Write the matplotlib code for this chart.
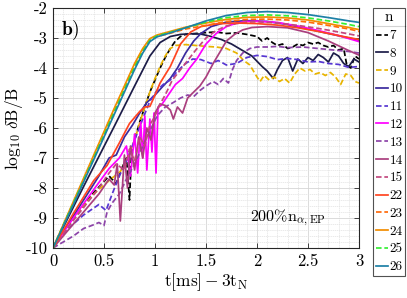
import matplotlib
matplotlib.use("Agg")
import matplotlib.pyplot as plt
from matplotlib.ticker import MultipleLocator, FuncFormatter
from matplotlib.lines import Line2D

plt.rcParams['font.family'] = 'cmr10'
plt.rcParams['mathtext.fontset'] = 'cm'
plt.rcParams['axes.formatter.use_mathtext'] = True
plt.rcParams['axes.unicode_minus'] = False

# ---- data ----
t7 = [0, 0.2, 0.4, 0.55, 0.62, 0.68, 0.72, 0.75, 0.77, 0.8, 0.85, 0.9, 0.95, 1.0, 1.05, 1.1,
      1.15, 1.2, 1.25, 1.3, 1.4, 1.5, 1.6, 1.7, 1.8, 1.9, 2.0, 2.05, 2.1, 2.15, 2.2, 2.25, 2.3,
      2.35, 2.4, 2.45, 2.5, 2.55, 2.6, 2.65, 2.7, 2.75, 2.8, 2.85, 2.88, 2.92, 2.96, 3.0]
v7 = [-10, -9.0, -8.15, -7.6, -7.85, -7.3, -7.0, -8.4, -6.8, -6.4, -5.8, -5.3, -4.8, -4.4, -4.0,
      -3.65, -3.35, -3.1, -2.95, -2.88, -2.85, -2.82, -2.8, -2.85, -2.83, -2.88, -2.95, -3.1, -3.0,
      -3.15, -3.25, -3.2, -3.35, -3.3, -3.2, -3.25, -3.15, -3.2, -3.15, -3.25, -3.3, -3.25, -3.4,
      -3.35, -3.9, -4.0, -3.6, -3.7]

t8 = [0, 0.3, 0.6, 0.8, 0.95, 1.05, 1.15, 1.25, 1.35, 1.45, 1.55, 1.65, 1.75, 1.85, 1.95, 2.05,
      2.1, 2.16, 2.2, 2.25, 2.3, 2.35, 2.4, 2.45, 2.5, 2.55, 2.6, 2.65, 2.7, 2.75, 2.8, 2.85, 2.9,
      2.95, 3.0]
v8 = [-10, -7.95, -5.95, -4.6, -3.6, -3.15, -2.95, -2.88, -2.86, -2.87, -2.95, -3.05, -3.2, -3.4,
      -3.6, -3.95, -4.1, -4.35, -4.05, -3.75, -3.65, -4.1, -3.7, -3.85, -3.65, -3.75, -3.55, -3.65,
      -3.8, -3.5, -3.6, -3.85, -3.95, -3.7, -3.8]

t9 = [0, 0.2, 0.4, 0.55, 0.66, 0.72, 0.8, 0.88, 0.95, 1.0, 1.05, 1.1, 1.15, 1.2, 1.3, 1.4, 1.5,
      1.6, 1.7, 1.8, 1.87, 1.93, 2.0, 2.03, 2.07, 2.12, 2.17, 2.22, 2.27, 2.32, 2.37, 2.42, 2.47,
      2.52, 2.57, 2.62, 2.67, 2.72, 2.77, 2.82, 2.87, 2.92, 2.96, 3.0]
v9 = [-10, -9.0, -8.2, -7.75, -7.45, -7.1, -6.4, -5.5, -4.8, -4.35, -3.95, -3.6, -3.35, -3.25,
      -3.22, -3.25, -3.28, -3.3, -3.35, -3.5, -3.75, -3.9, -4.3, -4.45, -4.25, -4.4, -4.3, -4.45,
      -4.35, -4.5, -4.2, -4.0, -4.1, -4.05, -4.2, -4.15, -4.25, -4.15, -4.3, -4.55, -4.2, -4.25,
      -4.45, -4.5]

t10 = [0, 0.15, 0.3, 0.45, 0.55, 0.62, 0.7, 0.78, 0.85, 0.92, 1.0, 1.08, 1.15, 1.22, 1.3, 1.38,
       1.45, 1.55, 1.7, 1.9, 2.1, 2.3, 2.5, 2.7, 2.9, 3.0]
v10 = [-10, -9.2, -8.4, -7.6, -7.0, -6.9, -6.3, -5.9, -5.5, -5.15, -4.9, -4.6, -4.35, -4.0, -3.5,
       -3.1, -2.85, -2.62, -2.47, -2.42, -2.45, -2.55, -2.7, -2.85, -3.0, -3.07]

t11 = [0, 0.15, 0.3, 0.45, 0.52, 0.58, 0.65, 0.72, 0.8, 0.88, 0.95, 1.02, 1.08, 1.15, 1.22, 1.3,
       1.37, 1.45, 1.55, 1.62, 1.7, 1.8, 1.9, 2.0, 2.1, 2.2, 2.3, 2.4, 2.5, 2.6, 2.7, 2.8, 2.9, 3.0]
v11 = [-10, -9.35, -8.9, -8.55, -8.75, -8.2, -7.6, -7.1, -6.4, -5.7, -5.1, -4.75, -4.55, -4.4,
       -4.1, -3.85, -3.7, -3.72, -3.85, -3.75, -3.9, -3.85, -3.65, -3.58, -3.62, -3.72, -3.68,
       -3.72, -3.8, -3.78, -3.85, -3.88, -3.98, -3.95]

t12 = [0, 0.2, 0.4, 0.55, 0.65, 0.72, 0.76, 0.8, 0.83, 0.86, 0.88, 0.9, 0.92, 0.95, 0.97, 0.99,
       1.01, 1.03, 1.06, 1.1, 1.15, 1.2, 1.27, 1.34, 1.41, 1.5, 1.6, 1.7, 1.8, 1.9, 2.0, 2.2, 2.4,
       2.6, 2.8, 3.0]
v12 = [-10, -9.0, -8.05, -7.35, -7.0, -6.6, -7.6, -6.2, -7.5, -5.8, -7.0, -5.6, -7.4, -5.7, -6.8,
       -5.5, -7.5, -5.3, -5.25, -5.05, -4.8, -4.55, -4.35, -4.0, -3.7, -3.2, -2.85, -2.62, -2.5,
       -2.45, -2.44, -2.48, -2.6, -2.75, -2.92, -3.12]

t13 = [0, 0.1, 0.2, 0.3, 0.38, 0.45, 0.5, 0.53, 0.58, 0.65, 0.72, 0.8, 0.88, 0.95, 1.02, 1.1,
       1.18, 1.25, 1.32, 1.38, 1.44, 1.5, 1.57, 1.62, 1.67, 1.72, 1.76, 1.8, 1.86, 1.93, 2.0, 2.1,
       2.2, 2.3, 2.45, 2.6, 2.75, 2.9, 3.0]
v13 = [-10, -9.8, -9.6, -9.35, -9.25, -9.15, -9.25, -8.8, -8.5, -8.2, -7.7, -7.2, -6.6, -6.1,
       -5.6, -5.3, -5.15, -5.0, -4.9, -4.95, -4.75, -4.6, -4.45, -4.55, -4.35, -4.5, -4.05, -3.75,
       -3.5, -3.35, -3.3, -3.3, -3.28, -3.32, -3.3, -3.35, -3.4, -3.45, -3.5]

t14 = [0, 0.15, 0.3, 0.45, 0.55, 0.6, 0.63, 0.66, 0.7, 0.73, 0.76, 0.8, 0.84, 0.88, 0.92, 0.96,
       1.0, 1.05, 1.1, 1.15, 1.18, 1.22, 1.27, 1.32, 1.38, 1.44, 1.5, 1.57, 1.64, 1.7, 1.78, 1.86,
       1.95, 2.1, 2.3, 2.5, 2.7, 2.9, 3.0]
v14 = [-10, -9.4, -8.8, -8.2, -7.7, -7.9, -7.2, -9.1, -6.9, -8.0, -6.6, -7.4, -6.3, -7.0, -6.0,
       -6.4, -5.5, -5.2, -5.25, -5.4, -5.7, -5.3, -5.5, -5.0, -4.8, -4.6, -4.3, -3.85, -3.45, -3.1,
       -2.88, -2.73, -2.65, -2.62, -2.66, -2.82, -3.1, -3.42, -3.57]

t15 = [0, 0.15, 0.3, 0.45, 0.55, 0.62, 0.7, 0.75, 0.8, 0.85, 0.9, 0.95, 1.0, 1.05, 1.1, 1.17,
       1.24, 1.32, 1.4, 1.5, 1.6, 1.7, 1.8, 1.9, 2.0, 2.2, 2.4, 2.6, 2.8, 3.0]
v15 = [-10, -9.3, -8.65, -8.0, -7.5, -7.2, -7.4, -6.7, -7.1, -6.3, -6.6, -5.9, -5.6, -5.2, -4.9,
       -4.4, -4.1, -3.75, -3.4, -3.0, -2.75, -2.6, -2.52, -2.47, -2.46, -2.5, -2.58, -2.68, -2.8,
       -2.93]

t22 = [0, 0.2, 0.4, 0.53, 0.65, 0.75, 0.85, 0.9, 0.95, 1.0, 1.05, 1.15, 1.25, 1.35, 1.45, 1.6,
       1.8, 2.0, 2.2, 2.4, 2.6, 2.8, 3.0]
v22 = [-10, -8.85, -7.75, -7.25, -6.5, -5.85, -5.45, -5.3, -5.28, -4.9, -4.5, -3.95, -3.2, -2.8,
       -2.62, -2.53, -2.5, -2.52, -2.57, -2.66, -2.78, -2.92, -3.05]

t_fast = [0, 0.2, 0.4, 0.6, 0.8, 0.88, 0.95, 1.02, 1.15, 1.3, 1.5, 1.7, 1.9, 2.1, 2.3, 2.5, 2.7,
          2.9, 3.0]
v23 = [-10, -8.5, -6.95, -5.4, -3.9, -3.4, -3.05, -2.95, -2.84, -2.7, -2.58, -2.45, -2.38, -2.37,
       -2.4, -2.47, -2.58, -2.7, -2.78]
v24 = [-10, -8.45, -6.9, -5.35, -3.85, -3.35, -3.02, -2.9, -2.78, -2.64, -2.5, -2.38, -2.31,
       -2.3, -2.33, -2.4, -2.52, -2.65, -2.72]
v25 = [-10, -8.5, -7.0, -5.48, -3.98, -3.45, -3.08, -2.93, -2.81, -2.66, -2.47, -2.32, -2.25,
       -2.23, -2.26, -2.33, -2.43, -2.55, -2.62]
v26 = [-10, -8.55, -7.05, -5.55, -4.05, -3.5, -3.12, -2.96, -2.83, -2.66, -2.43, -2.25, -2.15,
       -2.12, -2.15, -2.22, -2.32, -2.43, -2.48]

mode_n = ['7', '8', '9', '10', '11', '12', '13', '14', '15', '22', '23', '24', '25', '26']
series_t = [t7, t8, t9, t10, t11, t12, t13, t14, t15, t22, t_fast, t_fast, t_fast, t_fast]
series_v = [v7, v8, v9, v10, v11, v12, v13, v14, v15, v22, v23, v24, v25, v26]
colors = ['#000000', '#1c1c48', '#e8b400', '#3b2a9e', '#5636d2', '#ff00ff', '#8c44a8',
          '#aa3f7e', '#c2487e', '#ff4521', '#ff6a0a', '#f28c00', '#33f033', '#1d80a6']
dashed = [True, False, True, False, True, False, True, False, True, False, True, False, True, False]

fig = plt.figure(figsize=(4.07, 2.98), dpi=100)
ax = fig.add_axes([53 / 407, 1 - 248 / 298, 306 / 407, 240 / 298])

for n, tt, vv, c, d in zip(mode_n, series_t, series_v, colors, dashed):
    ls = (0, (3.2, 1.6)) if d else '-'
    ax.plot(tt, vv, color=c, lw=1.25, ls=ls, label=n)

ax.set_xlim(0, 3)
ax.set_ylim(-10, -2)
ax.xaxis.set_major_locator(MultipleLocator(0.5))
ax.xaxis.set_minor_locator(MultipleLocator(0.1))
ax.yaxis.set_major_locator(MultipleLocator(1))
ax.yaxis.set_minor_locator(MultipleLocator(0.2))
ax.xaxis.set_major_formatter(FuncFormatter(lambda v, p: f'{v:g}'))
ax.yaxis.set_major_formatter(FuncFormatter(lambda v, p: f'{v:g}'))
ax.grid(which='major', color='#d6d6d6', lw=0.6)
ax.grid(which='minor', color='#e2e2e2', lw=0.5, ls=(0, (2, 1)))
ax.set_axisbelow(True)
ax.tick_params(which='major', direction='in', length=3.5, width=0.6, top=True, right=True,
               labelsize=12, pad=4, colors='#262626', labelcolor='black')
ax.tick_params(which='minor', length=0)
for s in ax.spines.values():
    s.set_color('#262626')
    s.set_linewidth(0.8)

ax.set_xlabel(r'$\mathrm{t[ms]-3t_N}$', fontsize=12.5, labelpad=2)
ax.set_ylabel(r'$\mathrm{log}_{10}\ \delta\mathrm{B/B}$', fontsize=12.5, labelpad=0)
ax.text(0.025, 0.955, r'$\mathbf{b)}$', transform=ax.transAxes, fontsize=14, va='top', ha='left')
ax.text(2.3, -9.0, r'$200\%\mathrm{n}_{\alpha,\mathrm{EP}}$', fontsize=11.5, ha='center', va='center')

leg = fig.legend(loc='upper left', bbox_to_anchor=(373 / 407, 1 - 8 / 298), title='n',
                 fontsize=9.5, title_fontsize=11, frameon=True, fancybox=False,
                 handlelength=0.95, handletextpad=0.1, borderpad=0.2, labelspacing=0.42,
                 borderaxespad=0)
leg.get_frame().set_edgecolor('#262626')
leg.get_frame().set_linewidth(0.8)
leg._legend_box.align = 'center'

fig.canvas.draw()
fb = leg.get_frame().get_window_extent()
tb = leg.get_title().get_window_extent()
ysep = (tb.y0 - 2) / fig.bbox.height
fig.add_artist(Line2D([fb.x0 / fig.bbox.width, fb.x1 / fig.bbox.width], [ysep, ysep],
                      color='#262626', lw=0.8, transform=fig.transFigure))

fig.savefig('out.png', dpi=100)
